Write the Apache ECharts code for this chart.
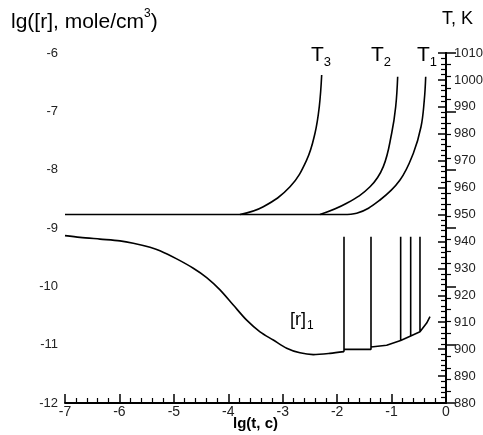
<!DOCTYPE html>
<html><head><meta charset="utf-8">
<script src="https://cdn.jsdelivr.net/npm/echarts@6/dist/echarts.min.js"></script>
<style>html,body{margin:0;padding:0;background:#fff}#c{width:483px;height:435px}</style>
</head><body><div id="c"></div>
<script>
// temperature curves (right axis, K)
const t1 = [[-7,950],[-1.887,950],[-1.641,950.5],[-1.213,955.4],[-0.845,962.8],[-0.601,972.7],[-0.459,982.6],[-0.399,992.5],[-0.373,1001.2]];
const t2 = [[-2.315,950],[-1.825,954.2],[-1.396,960.3],[-1.152,967.8],[-0.998,980.2],[-0.924,990.1],[-0.888,1001.2]];
const t3 = [[-3.785,950],[-3.357,952.9],[-2.866,960.3],[-2.559,970.3],[-2.407,980.2],[-2.328,990.1],[-2.284,1001.8]];
// concentration [r]1 (left axis, lg mole/cm3)
const rSmooth = [[-7,-9.13],[-6.724,-9.16],[-6.357,-9.19],[-5.99,-9.22],[-5.745,-9.26],[-5.438,-9.33],[-5.255,-9.39],[-4.948,-9.53],[-4.643,-9.69],[-4.397,-9.85],[-4.152,-10.06],[-3.908,-10.32],[-3.662,-10.58],[-3.417,-10.78],[-3.173,-10.92],[-2.927,-11.06],[-2.683,-11.14],[-2.438,-11.17],[-2.131,-11.15],[-1.874,-11.12]];
const rSpikes = [[-1.874,-11.12],[-1.874,-9.15],[-1.874,-11.08],[-1.378,-11.08],[-1.378,-9.15],[-1.378,-11.04],[-1.09,-11.01],[-0.833,-10.93],[-0.833,-9.15],[-0.833,-10.93],[-0.649,-10.85],[-0.649,-9.15],[-0.649,-10.85],[-0.478,-10.78],[-0.478,-9.15],[-0.478,-10.78],[-0.355,-10.63],[-0.294,-10.52]];

const FONT = 'Liberation Sans, Arial, sans-serif';
const chart = echarts.init(document.getElementById('c'), null, {renderer:'canvas'});
const lineStyle = {color:'#000', width:1.6};
chart.setOption({
  animation:false,
  backgroundColor:'#fff',
  grid:{left:65, right:37, top:53, bottom:32, containLabel:false, outerBoundsMode:'none'},
  xAxis:{type:'value', min:-7, max:0, interval:1,
    name:'lg(t, c)', nameLocation:'middle', nameGap:13, nameMoveOverlap:false,
    nameTextStyle:{fontFamily:FONT, fontSize:15, fontWeight:'bold', color:'#000', verticalAlign:'top'},
    axisLine:{lineStyle:{color:'#000', width:2}},
    axisTick:{inside:true, length:9, lineStyle:{color:'#000', width:1.5}},
    minorTick:{show:true, splitNumber:5, length:5, lineStyle:{color:'#000', width:1.2}},
    axisLabel:{fontFamily:FONT, fontSize:14, color:'#222', margin:2},
    splitLine:{show:false}},
  yAxis:[
    {type:'value', min:-12, max:-6, interval:1, position:'left',
     axisLine:{show:true, lineStyle:{color:'#000', width:2}},
     axisTick:{show:true, inside:true, length:10, lineStyle:{color:'#000', width:1.5}},
     minorTick:{show:true, splitNumber:5, length:5, lineStyle:{color:'#000', width:1.2}},
     axisLabel:{fontFamily:FONT, fontSize:13, color:'#222', margin:7},
     splitLine:{show:false}},
    {type:'value', min:880, max:1010, interval:10, position:'right',
     axisLine:{show:true, lineStyle:{color:'#000', width:2}},
     axisTick:{show:true, inside:true, length:8, lineStyle:{color:'#000', width:1.5}},
     minorTick:{show:true, splitNumber:5, length:5, lineStyle:{color:'#000', width:1.2}},
     axisLabel:{fontFamily:FONT, fontSize:13, color:'#222', margin:8, formatter:v=>String(v)},
     splitLine:{show:false}}
  ],
  series:[
    {type:'line', yAxisIndex:1, data:t1, showSymbol:false, smooth:0.4, lineStyle},
    {type:'line', yAxisIndex:1, data:t2, showSymbol:false, smooth:0.4, lineStyle},
    {type:'line', yAxisIndex:1, data:t3, showSymbol:false, smooth:0.4, lineStyle},
    {type:'line', yAxisIndex:0, data:rSmooth, showSymbol:false, smooth:0.3, lineStyle},
    {type:'line', yAxisIndex:0, data:rSpikes, showSymbol:false, smooth:false, lineStyle}
  ],
  graphic:[
    {type:'text', left:11, top:8, style:{text:'{a|lg([r], mole/cm}{s|3}{a|)}', rich:{
      a:{fontFamily:FONT, fontSize:21, fill:'#000', verticalAlign:'bottom', lineHeight:25},
      s:{fontFamily:FONT, fontSize:12, fill:'#000', verticalAlign:'top', lineHeight:25, padding:[0,0,12,0]}}}},
    {type:'text', left:442, top:10, style:{text:'T, K', fontFamily:FONT, fontSize:18, fill:'#000'}},
    {type:'text', left:311, top:45, style:{text:'{a|T}{s|3}', rich:{a:{fontFamily:FONT,fontSize:21,fill:'#000'}, s:{fontFamily:FONT,fontSize:13,fill:'#000',padding:[14,0,0,0]}}}},
    {type:'text', left:371, top:45, style:{text:'{a|T}{s|2}', rich:{a:{fontFamily:FONT,fontSize:21,fill:'#000'}, s:{fontFamily:FONT,fontSize:13,fill:'#000',padding:[14,0,0,0]}}}},
    {type:'text', left:417, top:45, style:{text:'{a|T}{s|1}', rich:{a:{fontFamily:FONT,fontSize:21,fill:'#000'}, s:{fontFamily:FONT,fontSize:13,fill:'#000',padding:[14,0,0,0]}}}},
    {type:'text', left:290, top:311, style:{text:'{a|[r]}{s|1}', rich:{a:{fontFamily:FONT,fontSize:18,fill:'#000'}, s:{fontFamily:FONT,fontSize:12,fill:'#000',padding:[12,0,0,1]}}}}
  ]
});
</script></body></html>
